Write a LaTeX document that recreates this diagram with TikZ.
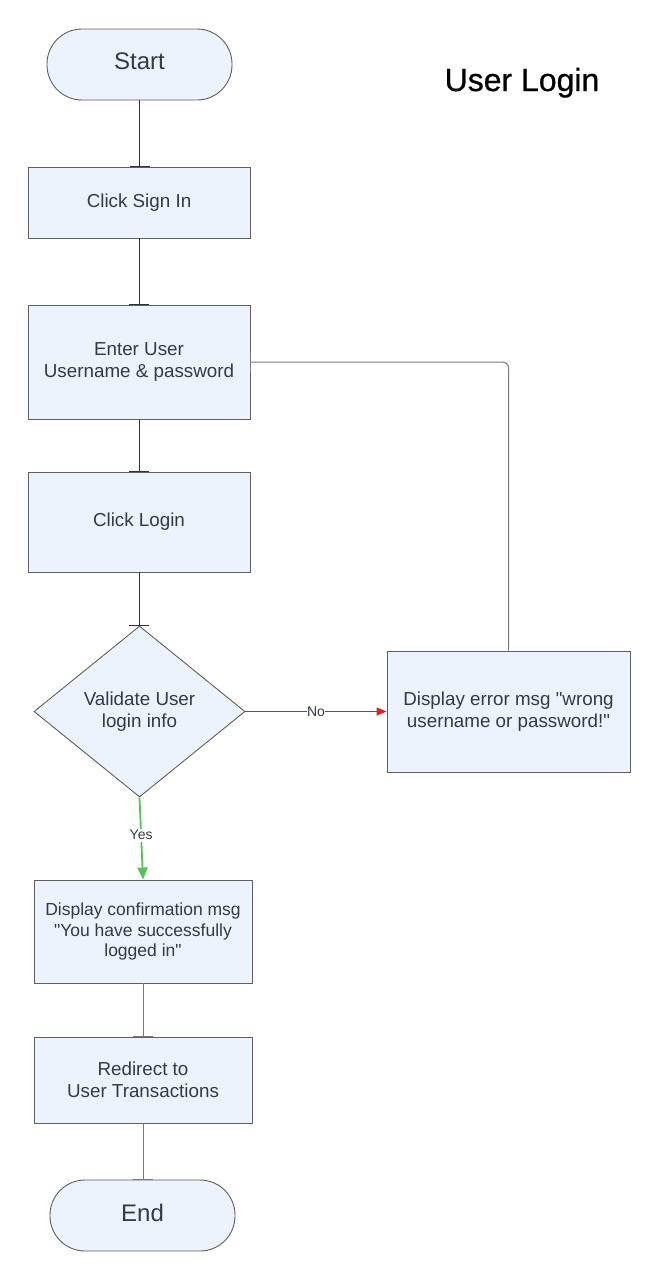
\documentclass[tikz,border=0pt]{standalone}
\usepackage{fontspec}
\setmainfont{Liberation Sans}
\newfontfamily\titlefont[FakeBold=0.6]{Liberation Sans}
\usetikzlibrary{shapes.geometric,arrows.meta}
\definecolor{fillc}{RGB}{237,243,252}
\definecolor{borderc}{RGB}{95,95,95}
\definecolor{textc}{RGB}{52,58,68}
\definecolor{redl}{RGB}{185,45,35}
\definecolor{redt}{RGB}{220,35,30}
\definecolor{greenl}{RGB}{85,195,85}
\definecolor{linec}{RGB}{50,50,50}
\definecolor{lineg}{RGB}{120,120,120}
\begin{document}
\begin{tikzpicture}[x=1pt,y=-1pt,
  box/.style={draw=borderc, fill=fillc, line width=0.9pt, text=textc,
    font=\fontsize{18.8}{22.5}\selectfont, align=center, inner sep=0pt},
  proc/.style={box, rectangle},
  term/.style={box, rectangle, rounded corners=35pt, text depth=6pt, font=\fontsize{24}{28}\selectfont},
  dec/.style={box, diamond, aspect=1.234},
  conn/.style={draw=linec, line width=1pt, -{Bar[width=20pt,line width=1pt]}},
  conng/.style={draw=lineg, line width=1pt, -{Bar[width=20pt,line width=1pt]}},
  lbl/.style={fill=white, inner sep=1.5pt, text=textc, font=\fontsize{14}{16}\selectfont},
  ttl/.style={text=black, font=\titlefont\fontsize{32}{36}\selectfont}
]
\useasboundingbox[fill=white] (0,0) rectangle (658,1280);

\node[term, minimum width=185pt, minimum height=71pt] (start) at (139.5,64.5) {Start};
\node[proc, minimum width=222pt, minimum height=71pt] (sign) at (139,202.5) {Click Sign In};
\node[proc, minimum width=222pt, minimum height=114pt] (enter) at (139,362) {Enter User\\Username \& password};
\node[proc, minimum width=222pt, minimum height=100pt] (login) at (139,522) {Click Login};
\node[dec, minimum width=211pt, minimum height=171pt] (val) at (139.5,711.5) {Validate User\\login info};
\node[proc, minimum width=243pt, minimum height=121pt] (err) at (508.5,711.5) {Display error msg \textquotedbl wrong\\username or password!\textquotedbl};
\node[proc, minimum width=218pt, minimum height=103pt, font=\fontsize{17.5}{20.5}\selectfont] (conf) at (143,931.5) {Display confirmation msg\\\textquotedbl You have successfully\\logged in\textquotedbl};
\node[proc, minimum width=218pt, minimum height=86pt] (redir) at (143,1080) {Redirect to\\User Transactions};
\node[term, minimum width=185pt, minimum height=71pt] (end) at (142.5,1215.5) {End};
\node[ttl, anchor=base] (title) at (522,91) {User Login};

\draw[conn] (start.south) -- (start.south |- sign.north);
\draw[conn] (sign) -- (enter);
\draw[conn] (enter) -- (login);
\draw[conn] (login.south) -- (login.south |- val.north);
\draw[draw=redl, line width=1pt, -{Triangle[length=10pt,width=8pt,fill=redt,color=redt]}]
  (val.east) -- (err.west) node[lbl, inner sep=0.5pt, pos=0.5] {No};
\draw[draw=greenl, line width=1.8pt, -{Triangle[length=12pt,width=10pt]}]
  (val.south) -- (conf.north) node[lbl, pos=0.46] {Yes};
\draw[conng, rounded corners=6pt] (err.north) |- (enter.east);
\draw[conng] (conf) -- (redir);
\draw[conng] (redir.south) -- (redir.south |- end.north);
\end{tikzpicture}
\end{document}
